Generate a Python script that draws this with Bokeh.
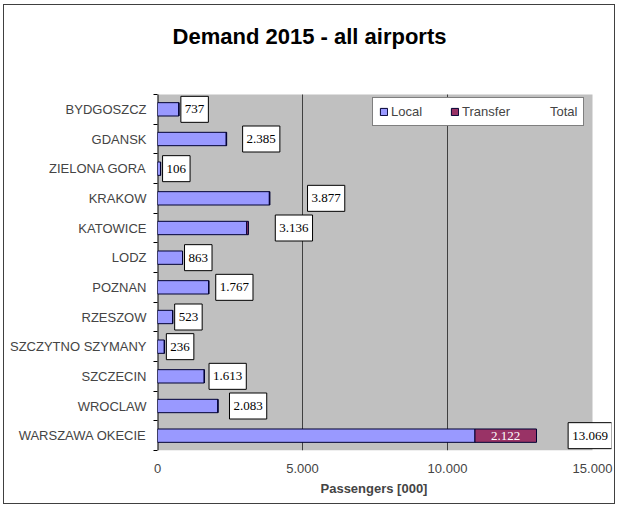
from bokeh.plotting import figure
from bokeh.models import (ColumnDataSource, Range1d, FixedTicker, LabelSet, Legend,
                          LegendItem, Label, Title)
from bokeh.embed import file_html
from bokeh.resources import INLINE

airports = ["BYDGOSZCZ", "GDANSK", "ZIELONA GORA", "KRAKOW", "KATOWICE", "LODZ",
            "POZNAN", "RZESZOW", "SZCZYTNO SZYMANY", "SZCZECIN", "WROCLAW", "WARSZAWA OKECIE"]
total = [737, 2385, 106, 3877, 3136, 863, 1767, 523, 236, 1613, 2083, 13069]
transfer = [0, 15, 0, 20, 60, 0, 0, 0, 0, 0, 0, 2122]
x_ticks = [0, 5000, 10000, 15000]
x_tick_labels = ["0", "5.000", "10.000", "15.000"]
title_text = "Demand 2015 - all airports"

local = [t - tr for t, tr in zip(total, transfer)]
ypos = [i + 0.5 for i in range(len(airports))]
N = len(airports)
XMAX = 15000

OX, OY = 4, 5                                 # canvas origin on the page
W, H = 612, 500
FL, FR, FB = 157 - OX, 611 - OX, 450 - OY     # frame edges in canvas px
GT = 94 - OY                                  # top of the gray plot area (canvas px)
X15 = 592 - OX                                # px of 15000
SCALE = (X15 - FL) / XMAX
XEND = (FR - FL) / SCALE                      # extend frame so outside labels show
BAND = (FB - GT) / N
YTOP = -GT / BAND                             # frame reaches the canvas top


def fmt(v):
    return f"{v:,}".replace(",", ".")


src = ColumnDataSource(dict(y=ypos, local=local, transfer=transfer, total=total))
big = [i for i, v in enumerate(transfer) if v > 1000]
src_tr = ColumnDataSource(dict(
    y=[ypos[i] for i in big],
    x=[local[i] + transfer[i] / 2 for i in big],
    lab=[fmt(transfer[i]) for i in big],
))

p = figure(width=W, height=H, output_backend="svg", toolbar_location=None,
           title_location=None,
           x_range=Range1d(0, XEND), y_range=Range1d(N, YTOP),
           min_border_left=FL, min_border_right=W - FR, min_border_top=0,
           min_border_bottom=H - FB)

p.background_fill_color = "white"
p.border_fill_color = "white"
p.outline_line_color = None
p.styles = {"border": "1px solid #404040", "margin": f"{OY - 1}px 0 0 {OX - 1}px"}

# title
p.add_layout(Label(x=(309 - OX - FL) / SCALE, y=YTOP + (36 - OY) / BAND, text=title_text,
                   text_align="center", text_baseline="middle",
                   text_font="Liberation Sans", text_font_size="22px",
                   text_font_style="bold", text_color="black"))

# gray plot area 0..15000
p.quad(left=[0], right=[XMAX], top=[0], bottom=[N], fill_color="#C0C0C0",
       line_color=None, level="image")
# y axis line along the gray area
p.segment(x0=[0], y0=[0], x1=[0], y1=[N], line_color="black", line_width=2)

r_local = p.hbar(y="y", left=0, right="local", height=0.45, source=src,
                 fill_color="#9999FF", line_color="#000033", line_width=1)
r_tr = p.hbar(y="y", left="local", right="total", height=0.45, source=src,
              fill_color="#993366", line_color="#000033", line_width=1)
r_tot = p.hbar(y="y", left="total", right="total", height=0.45, source=src,
               fill_alpha=0, line_alpha=0)

# total labels (boxed), placed like Excel: centred on an equal stacked segment,
# never overlapping the bar and kept inside the chart
for y, v in zip(ypos, total):
    half_px = (len(fmt(v)) * 6.5 + 8) / 2
    xc = max(1.5 * v, v + (half_px + 2) / SCALE)
    xc = min(xc, XEND - (half_px - 2) / SCALE)
    p.add_layout(Label(x=xc, y=y, text=fmt(v),
                       text_align="center", text_baseline="middle",
                       text_font="Liberation Serif", text_font_size="13px", text_color="black",
                       background_fill_color="white", border_line_color="black",
                       border_line_width=1, padding=(4, 9)))
# transfer labels
p.add_layout(LabelSet(x="x", y="y", text="lab", source=src_tr,
                      text_align="center", text_baseline="middle",
                      text_font="Liberation Sans", text_font_size="13px", text_color="white"))

# x axis
p.xaxis.ticker = FixedTicker(ticks=x_ticks)
p.xaxis.major_label_overrides = {t: l for t, l in zip(x_ticks, x_tick_labels)}
p.xaxis.axis_line_color = None
p.xaxis.major_tick_line_color = None
p.xaxis.minor_tick_line_color = None
p.xaxis.major_label_text_font = "Liberation Sans"
p.xaxis.major_label_text_font_size = "13px"
p.xaxis.major_label_standoff = 7
p.add_layout(Title(text="Passengers [000]", align="left", offset=163,
                   text_font="Liberation Sans", text_font_size="13px",
                   text_font_style="bold", standoff=6), "below")

# y axis
p.yaxis.ticker = FixedTicker(ticks=ypos, minor_ticks=list(range(N + 1)))
p.yaxis.major_label_overrides = {y: a for y, a in zip(ypos, airports)}
p.yaxis.axis_line_color = None
p.yaxis.major_tick_line_color = None
p.yaxis.minor_tick_line_color = "black"
p.yaxis.minor_tick_out = 4
p.yaxis.minor_tick_in = 0
p.yaxis.major_label_text_font = "Liberation Sans"
p.yaxis.major_label_text_font_size = "13px"
p.yaxis.major_label_standoff = 5

# grid
p.ygrid.grid_line_color = None
p.xgrid.ticker = FixedTicker(ticks=[5000, 10000])
p.xgrid.grid_line_color = None
p.segment(x0=[5000, 10000], y0=[0, 0], x1=[5000, 10000], y1=[N, N],
          line_color="#404040", line_width=1, level="underlay")

legend = Legend(items=[LegendItem(label="Local", renderers=[r_local]),
                       LegendItem(label="Transfer", renderers=[r_tr]),
                       LegendItem(label="Total", renderers=[r_tot])],
                orientation="horizontal", location=(372 - OX - FL, FB - (126 - OY)))
legend.margin = 0
legend.padding = 6
legend.spacing = 28
legend.glyph_width = 9
legend.glyph_height = 9
legend.label_standoff = 3
legend.label_height = 14
legend.label_text_font = "Liberation Sans"
legend.label_text_font_size = "13px"
legend.border_line_color = "black"
legend.border_line_width = 1
legend.background_fill_color = "white"
legend.background_fill_alpha = 1
p.add_layout(legend, "center")

open("out.html", "w").write(file_html(p, INLINE))
